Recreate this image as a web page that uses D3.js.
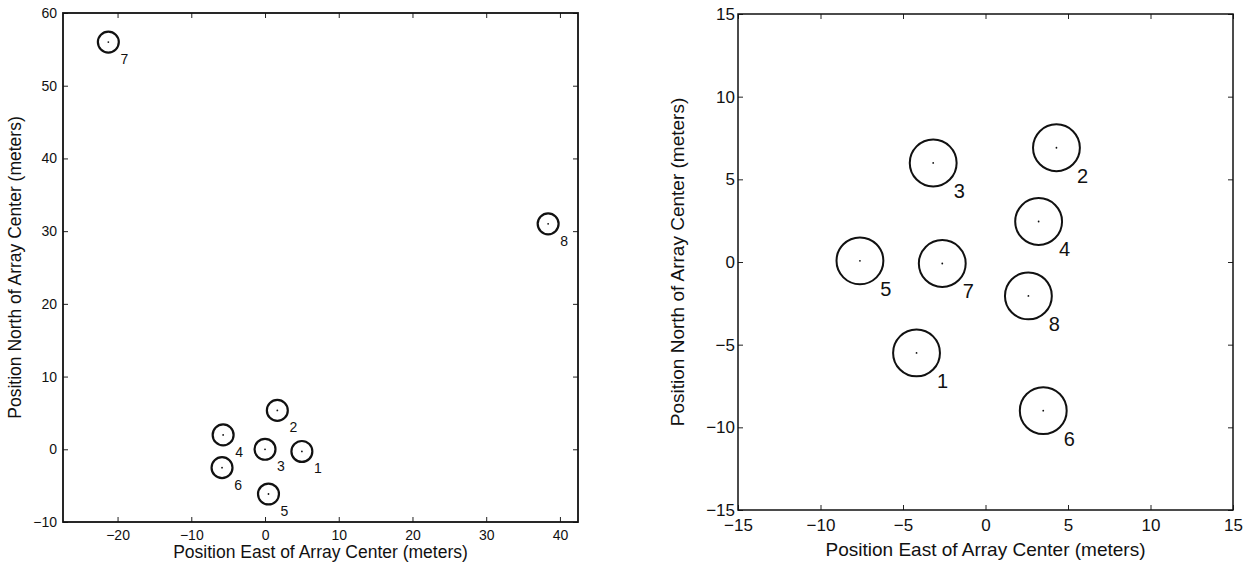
<!DOCTYPE html>
<html>
<head>
<meta charset="utf-8">
<script src="https://cdn.jsdelivr.net/npm/d3@7"></script>
<style>
  body { margin: 0; background: #fff; }
  svg text { font-family: "Liberation Sans", Arial, sans-serif; fill: #111; }
  .tick line { stroke: #222; stroke-width: 1; }
</style>
</head>
<body>
<div id="container"></div>
<script>
// antenna labels
var labels = ['1', '2', '3', '4', '5', '6', '7', '8'];
// full array layout (meters)
var wideEast = [5.0, 1.67, 0, -5.68, 0.47, -5.83, -21.25, 38.4];
var wideNorth = [-0.3, 5.35, 0, 1.98, -6.15, -2.53, 56.0, 31.0];
// compact array layout (meters)
var compactEast = [-4.18, 4.30, -3.17, 3.22, -7.61, 3.50, -2.62, 2.60];
var compactNorth = [-5.50, 6.91, 5.99, 2.45, 0.07, -8.99, -0.09, -2.05];
var wideXTicks = [-20, -10, 0, 10, 20, 30, 40];
var wideYTicks = [-10, 0, 10, 20, 30, 40, 50, 60];
var compactTicks = [-15, -10, -5, 0, 5, 10, 15];
var dishRadius = 1.42; // meters

var svg = d3.select('#container')
    .append('svg')
    .attr('width', 1247)
    .attr('height', 567);

function drawPanel(opt) {
    var g = svg.append('g')
        .attr('transform', 'translate(' + opt.left + ',' + opt.top + ')');
    var w = opt.width, h = opt.height;

    var x = d3.scaleLinear().domain(opt.xDomain).range([0, w]);
    var y = d3.scaleLinear().domain(opt.yDomain).range([h, 0]);

    // ticks, pointing inward on all four sides
    g.append('g')
        .attr('transform', 'translate(0,' + h + ')')
        .call(d3.axisBottom(x).tickValues(opt.xTicks).tickSizeInner(-5).tickSizeOuter(0).tickPadding(opt.pad))
        .attr('font-size', opt.tickFont);
    g.append('g')
        .call(d3.axisTop(x).tickValues(opt.xTicks).tickSizeInner(-5).tickSizeOuter(0).tickFormat(''));
    g.append('g')
        .call(d3.axisLeft(y).tickValues(opt.yTicks).tickSizeInner(-5).tickSizeOuter(0).tickPadding(opt.yPad))
        .attr('font-size', opt.tickFont);
    g.append('g')
        .attr('transform', 'translate(' + w + ',0)')
        .call(d3.axisRight(y).tickValues(opt.yTicks).tickSizeInner(-5).tickSizeOuter(0).tickFormat(''));
    g.selectAll('.domain').remove();
    g.selectAll('.tick text').attr('fill', '#111');

    // box
    g.append('rect')
        .attr('width', w)
        .attr('height', h)
        .attr('fill', 'none')
        .attr('stroke', '#111')
        .attr('stroke-width', opt.boxWidth);

    var pts = opt.east.map(function(d, i) {
        return { e: d, n: opt.north[i], label: labels[i] };
    });

    var r = x(dishRadius) - x(0);
    var node = g.selectAll('.dish')
        .data(pts)
        .enter()
        .append('g')
        .attr('class', 'dish')
        .attr('transform', function(d) {
            return 'translate(' + x(d.e) + ',' + y(d.n) + ')';
        });
    node.append('circle')
        .attr('r', r)
        .attr('fill', 'none')
        .attr('stroke', '#111')
        .attr('stroke-width', opt.ringWidth);
    node.append('circle')
        .attr('r', 0.9)
        .attr('fill', '#111');
    node.append('text')
        .attr('x', opt.labelDx)
        .attr('y', opt.labelDy)
        .attr('text-anchor', 'middle')
        .attr('dy', '0.35em')
        .attr('font-size', opt.labelFont)
        .text(function(d) { return d.label; });

    // axis titles
    g.append('text')
        .attr('x', w / 2)
        .attr('y', h + opt.xTitleDy)
        .attr('text-anchor', 'middle')
        .attr('font-size', opt.titleFont)
        .text('Position East of Array Center (meters)');
    g.append('text')
        .attr('transform', 'translate(' + opt.yTitleDx + ',' + (h / 2) + ') rotate(-90)')
        .attr('text-anchor', 'middle')
        .attr('font-size', opt.titleFont)
        .text('Position North of Array Center (meters)');
}

drawPanel({
    left: 63, top: 13, width: 515, height: 509,
    xDomain: [-27.4, 42.45], yDomain: [-10, 60],
    xTicks: wideXTicks, yTicks: wideYTicks,
    east: wideEast, north: wideNorth,
    tickFont: 14, titleFont: 17.5, labelFont: 14,
    labelDx: 16, labelDy: 17, pad: 8, yPad: 6,
    xTitleDy: 36, yTitleDx: -42, boxWidth: 1.8, ringWidth: 2.2
});

drawPanel({
    left: 738, top: 14, width: 495, height: 496,
    xDomain: [-15, 15], yDomain: [-15, 15],
    xTicks: compactTicks, yTicks: compactTicks,
    east: compactEast, north: compactNorth,
    tickFont: 17, titleFont: 19, labelFont: 20,
    labelDx: 26, labelDy: 28, pad: 9, yPad: 3,
    xTitleDy: 46, yTitleDx: -54, boxWidth: 1.5, ringWidth: 2
});
</script>
</body>
</html>
